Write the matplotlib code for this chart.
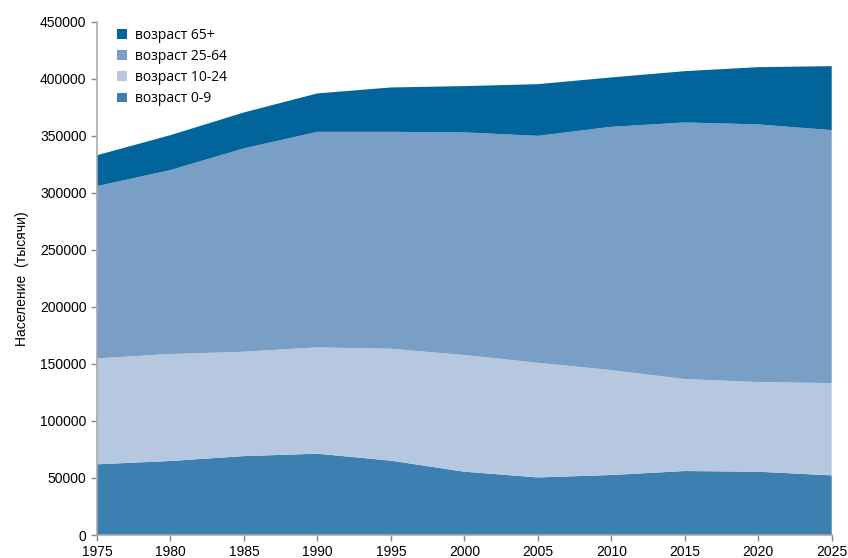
import matplotlib.pyplot as plt
import numpy as np

years = [1975, 1980, 1985, 1990, 1995, 2000, 2005, 2010, 2015, 2020, 2025]
age_0_9 = [62000, 64900, 69200, 71300, 65200, 55500, 50500, 52600, 56100, 55500, 52300]
age_10_24 = [92900, 93800, 91500, 93200, 98100, 102300, 100500, 92000, 80600, 78600, 80900]
age_25_64 = [151000, 161300, 178300, 189000, 190200, 195200, 199000, 213300, 225000, 225900, 221800]
age_65 = [27100, 30600, 31500, 33700, 38900, 40600, 45300, 43300, 45000, 50200, 56100]

labels = ["возраст 0-9", "возраст 10-24", "возраст 25-64", "возраст 65+"]
colors = ["#3c7fb1", "#b6c8e0", "#799fc7", "#01659c"]

plt.rcParams["font.family"] = ["Liberation Sans", "DejaVu Sans"]

fig = plt.figure(figsize=(8.48, 5.58), dpi=100)
ax = fig.add_axes([0.1144, 0.0412, 0.8664, 0.9198])

ax.stackplot(years, age_0_9, age_10_24, age_25_64, age_65,
             labels=labels, colors=colors, linewidth=0)

ax.set_xlim(1975, 2025)
ax.set_ylim(0, 450000)
ax.set_xticks(years)
ax.set_yticks(np.arange(0, 450001, 50000))
ax.tick_params(labelsize=10, length=4, color="#888888", width=1)
for side in ["top", "right"]:
    ax.spines[side].set_visible(False)
for side in ["left", "bottom"]:
    ax.spines[side].set_color("#aaaaaa")
    ax.spines[side].set_linewidth(1.2)

ax.set_ylabel("Население  (тысячи)", fontsize=10, labelpad=8)

handles, lbls = ax.get_legend_handles_labels()
ax.legend(handles[::-1], lbls[::-1], loc="upper left", frameon=False,
          handlelength=0.7, handleheight=0.7, labelspacing=0.45,
          handletextpad=0.6, bbox_to_anchor=(0.01, 1.013),
          prop={"family": ["Open Sans", "DejaVu Sans"], "size": 10})

fig.savefig("out.png", dpi=100)
